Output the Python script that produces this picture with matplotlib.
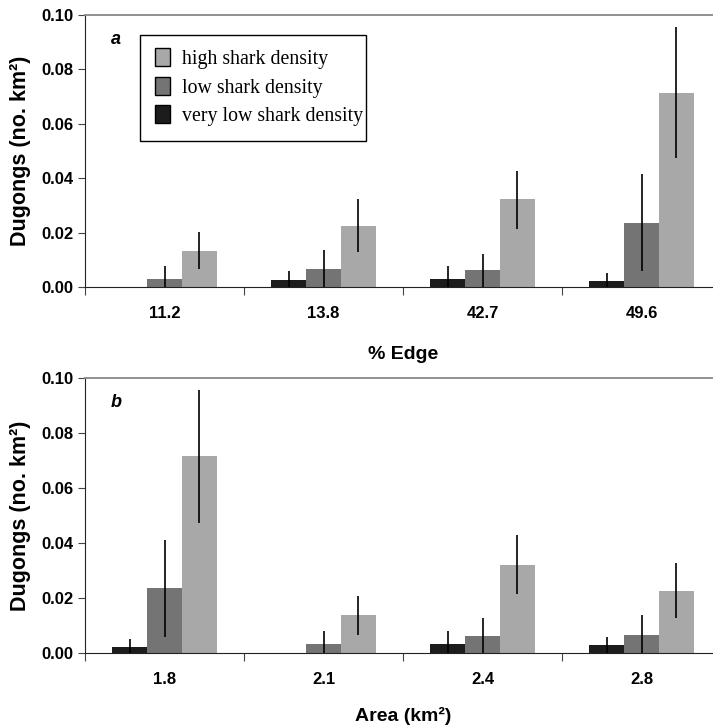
import matplotlib
matplotlib.use("Agg")
import matplotlib.pyplot as plt
import numpy as np
from matplotlib.patches import Patch, Rectangle

series = ["very low shark density", "low shark density", "high shark density"]
colors = ["#1c1c1c", "#747474", "#a8a8a8"]

cats_a = ["11.2", "13.8", "42.7", "49.6"]
# values per series (very low, low, high)
vals_a = [[0.0, 0.0024, 0.0029, 0.0021],
          [0.0029, 0.0067, 0.0062, 0.0236],
          [0.0133, 0.0224, 0.0322, 0.0713]]
lo_a = [[0.0, 0.0, 0.0, 0.0],
        [0.0, 0.0, 0.0, 0.0057],
        [0.0065, 0.0127, 0.0213, 0.0475]]
hi_a = [[0.0, 0.0057, 0.0077, 0.0051],
        [0.0077, 0.0136, 0.0122, 0.0414],
        [0.0202, 0.0323, 0.0426, 0.0956]]

cats_b = ["1.8", "2.1", "2.4", "2.8"]
vals_b = [[0.0022, 0.0, 0.0033, 0.0028],
          [0.0235, 0.0032, 0.0063, 0.0067],
          [0.0715, 0.0137, 0.0319, 0.0227]]
lo_b = [[0.0, 0.0, 0.0, 0.0],
        [0.0058, 0.0, 0.0, 0.0],
        [0.0473, 0.0065, 0.0215, 0.0126]]
hi_b = [[0.0052, 0.0, 0.0079, 0.0057],
        [0.0412, 0.0079, 0.0126, 0.0138],
        [0.0958, 0.0206, 0.0430, 0.0327]]

yticks = [0.00, 0.02, 0.04, 0.06, 0.08, 0.10]

sans = ["Liberation Sans", "DejaVu Sans"]

fig = plt.figure(figsize=(7.13, 7.28), dpi=100)
ax_a = fig.add_axes([85/713, 1-287/728, 636/713, 272/728])
ax_b = fig.add_axes([85/713, 1-653/728, 636/713, 275/728])

def draw(ax, cats, vals, lo, hi, xlabel, panel, xpad):
    x = np.arange(len(cats))
    w = 0.22
    for k in range(3):
        pos = x + (k - 1) * w
        v = np.array(vals[k])
        mask = v > 0
        ax.bar(pos[mask], v[mask], width=w, color=colors[k], edgecolor="none", zorder=2)
        h = np.array(hi[k]); l = np.array(lo[k])
        em = h > 0
        ax.vlines(pos[em], l[em], h[em], color="black", lw=1.2, zorder=3)
    ax.set_xlim(-0.5, len(cats) - 0.5)
    ax.set_ylim(0, 0.10)
    ax.set_yticks(yticks)
    ax.set_yticklabels([f"{t:.2f}" for t in yticks], fontfamily=sans,
                       fontweight="bold", fontsize=12)
    ax.set_xticks(np.arange(len(cats) + 1) - 0.5)
    ax.set_xticklabels([])
    ax.set_xticks(x, minor=True)
    ax.set_xticklabels(cats, minor=True, fontfamily=sans, fontweight="bold", fontsize=12)
    ax.tick_params(axis="x", which="major", length=6, direction="out", color="#444444")
    ax.tick_params(axis="x", which="minor", length=0, pad=14)
    ax.tick_params(axis="y", length=5, direction="out", color="#444444")
    ax.spines["top"].set_color("#888888")
    ax.spines["top"].set_linewidth(1.3)
    ax.spines["right"].set_color("#888888")
    ax.spines["left"].set_color("#222222")
    ax.spines["bottom"].set_color("#222222")
    ax.set_ylabel("Dugongs (no. km²)", fontfamily=sans,
                  fontweight="bold", fontsize=15.5, labelpad=7)
    ax.set_xlabel(xlabel, fontfamily=sans, fontweight="bold", fontsize=14, labelpad=xpad)
    ax.text(0.04, 0.895, panel, transform=ax.transAxes, fontfamily=sans,
            fontweight="bold", fontstyle="italic", fontsize=13)

draw(ax_a, cats_a, vals_a, lo_a, hi_a, "% Edge", "a", 18)
draw(ax_b, cats_b, vals_b, lo_b, hi_b, "Area (km²)", "b", 14)

# legend frame
ax_a.add_patch(Rectangle((0.0865, 0.537), 0.4418 - 0.0865, 0.926 - 0.537,
                         transform=ax_a.transAxes, facecolor="white",
                         edgecolor="black", lw=1.0, zorder=4))
handles = [Patch(facecolor=colors[k], edgecolor="black", lw=1.0) for k in [2, 1, 0]]
leg = ax_a.legend(handles, [series[k] for k in [2, 1, 0]], loc="upper left",
                  bbox_to_anchor=(0.110, 0.878), prop={"family": ["Liberation Serif", "DejaVu Serif"], "size": 14.3},
                  frameon=False, handlelength=0.75, handleheight=1.0,
                  borderpad=0, labelspacing=0.40, handletextpad=0.6, borderaxespad=0)
leg.set_zorder(5)

fig.savefig("out.png", dpi=100)
